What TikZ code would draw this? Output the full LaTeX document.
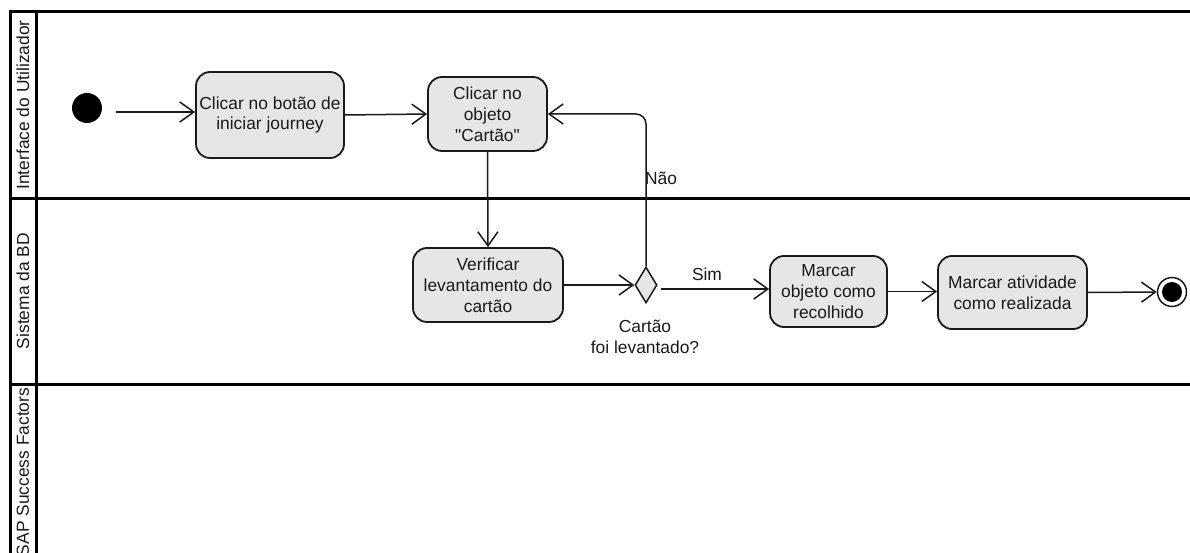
\documentclass[tikz,border=0pt]{standalone}
\usepackage{fontspec}
\setmainfont{Liberation Sans}[Ligatures=TeXOff]
\usetikzlibrary{arrows.meta,shapes.geometric,calc}
\definecolor{boxfill}{HTML}{E6E6E6}
\definecolor{ink}{HTML}{1A1A1A}
\tikzset{
  lane/.style={line width=3pt, black},
  act/.style={draw=ink, line width=1.8pt, fill=boxfill, rounded corners=14pt, align=center,
    font=\fontsize{17.4}{20.8}\selectfont, text=ink, inner sep=0pt},
  dec/.style={draw=ink, line width=1.5pt, fill=boxfill, diamond, minimum width=22pt, minimum height=36pt, inner sep=0pt},
  arr/.style={draw=ink, line width=1.5pt, -{Straight Barb[length=14pt,width=20pt,line width=1.5pt]}},
  lbl/.style={font=\fontsize{17.4}{20.8}\selectfont, text=ink, align=center, inner sep=0pt},
  lanelbl/.style={font=\fontsize{17.4}{20.8}\selectfont, text=ink, rotate=90, inner sep=0pt},
}
\begin{document}
\begin{tikzpicture}[x=1pt,y=-1pt]
\useasboundingbox (0,0) rectangle (1190,553);
\clip (0,0) rectangle (1190,553);
% lanes
\draw[lane] (10,12) -- (1195,12);
\draw[lane] (10,199) -- (1195,199);
\draw[lane] (10,384) -- (1195,384);
\draw[lane] (10,10.5) -- (10,560);
\draw[lane] (36,10.5) -- (36,560);
\node[lanelbl] (l1) at (23,105) {Interface do Utilizador};
\node[lanelbl] (l2) at (23,291) {Sistema da BD};
\node[lanelbl] (l3) at (23,472) {SAP Success Factors};
% nodes
\node[circle, fill=black, minimum size=30pt, inner sep=0pt] (start) at (87,108) {};
\node[act, minimum width=148pt, minimum height=86pt] (n1) at (270,115) {Clicar no botão de\\iniciar journey};
\node[act, minimum width=119pt, minimum height=74pt] (n2) at (487.5,114) {Clicar no\\objeto\\"Cartão"};
\node[act, minimum width=150pt, minimum height=74pt] (n3) at (488,285) {Verificar\\levantamento do\\cartão};
\node[dec] (d) at (646,285) {};
\node[act, minimum width=117pt, minimum height=71pt] (n4) at (828.5,291.5) {Marcar\\objeto como\\recolhido};
\node[act, minimum width=149pt, minimum height=73pt] (n5) at (1012.5,292.5) {Marcar atividade\\como realizada};
\node[circle, draw=ink, line width=1.5pt, fill=white, minimum size=29pt, inner sep=0pt] (end) at (1172,292) {};
\node[circle, fill=black, minimum size=20pt, inner sep=0pt] (endin) at (end.center) {};
% labels
\node[lbl] (cond) at (645,337) {Cartão\\foi levantado?};
\node[lbl] (nao) at (661,178) {Não};
\node[lbl] (sim) at (707,274) {Sim};
% connectors
\draw[arr] ([xshift=14pt,yshift=-4pt]start.east) -- ([yshift=-4pt]start.east -| n1.west);
\draw[arr] (n1.east) -- (n2.west);
\draw[arr] (n2.south) -- (n3.north);
\draw[arr] (n3.east) -- (d.west);
\draw[arr, rounded corners=10pt] (d.north) |- (n2.east);
\draw[arr] ([xshift=3pt,yshift=-4pt]d.east) -- ([yshift=-4pt]d.east -| n4.west);
\draw[arr] (n4.east) -- (n4.east -| n5.west);
\draw[arr] (n5.east) -- (end.west);
\end{tikzpicture}
\end{document}
